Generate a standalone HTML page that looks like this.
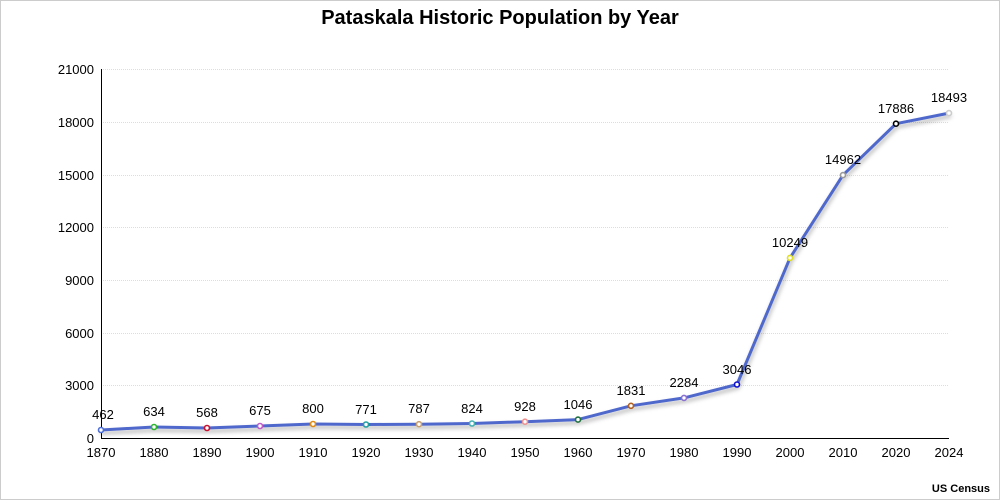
<!DOCTYPE html>
<html><head><meta charset="utf-8"><style>
body{margin:0;background:#fff;}
svg{display:block;font-family:"Liberation Sans",sans-serif;}
</style></head><body>
<svg width="1000" height="500" viewBox="0 0 1000 500" xmlns="http://www.w3.org/2000/svg">
<defs><filter id="sh" x="-50%" y="-50%" width="200%" height="200%"><feDropShadow dx="1" dy="3" stdDeviation="2" flood-color="#000" flood-opacity="0.3"/></filter></defs>
<rect x="0.5" y="0.5" width="999" height="499" fill="#fff" stroke="#ccc"/>
<text x="500" y="24" text-anchor="middle" font-size="20" font-weight="bold" fill="#000">Pataskala Historic Population by Year</text>
<g stroke="#ddd" stroke-dasharray="1,1" stroke-width="1">
<line x1="101" x2="949" y1="69.5" y2="69.5"/><line x1="101" x2="949" y1="122.5" y2="122.5"/><line x1="101" x2="949" y1="175.5" y2="175.5"/><line x1="101" x2="949" y1="227.5" y2="227.5"/><line x1="101" x2="949" y1="280.5" y2="280.5"/><line x1="101" x2="949" y1="333.5" y2="333.5"/><line x1="101" x2="949" y1="385.5" y2="385.5"/>
</g>
<g font-size="13" fill="#000" text-anchor="end">
<text x="94" y="74">21000</text><text x="94" y="127">18000</text><text x="94" y="180">15000</text><text x="94" y="232">12000</text><text x="94" y="285">9000</text><text x="94" y="338">6000</text><text x="94" y="390">3000</text><text x="94" y="443">0</text>
</g>
<line x1="101.5" y1="69" x2="101.5" y2="439" stroke="#000"/>
<line x1="101" y1="438.5" x2="949" y2="438.5" stroke="#000"/>
<g font-size="13" fill="#000" text-anchor="middle">
<text x="101" y="457">1870</text><text x="154" y="457">1880</text><text x="207" y="457">1890</text><text x="260" y="457">1900</text><text x="313" y="457">1910</text><text x="366" y="457">1920</text><text x="419" y="457">1930</text><text x="472" y="457">1940</text><text x="525" y="457">1950</text><text x="578" y="457">1960</text><text x="631" y="457">1970</text><text x="684" y="457">1980</text><text x="737" y="457">1990</text><text x="790" y="457">2000</text><text x="843" y="457">2010</text><text x="896" y="457">2020</text><text x="949" y="457">2024</text>
</g>
<polyline filter="url(#sh)" fill="none" stroke="#5068cc" stroke-width="3" stroke-linejoin="round" stroke-linecap="round" points="101,430 154,427 207,428 260,426 313,424 366,424.5 419,424.2 472,423.5 525,421.7 578,419.6 631,405.8 684,397.9 737,384.5 790,257.9 843,175.1 896,123.7 949,113.1"/>
<g stroke-width="1.6" fill="#fff">
<circle cx="101" cy="430" r="2.5" stroke="#4d6fd6"/>
<circle cx="154" cy="427" r="2.5" stroke="#2db52d"/>
<circle cx="207" cy="428" r="2.5" stroke="#c8102e"/>
<circle cx="260" cy="426" r="2.5" stroke="#c05ac8"/>
<circle cx="313" cy="424" r="2.5" stroke="#e08a10"/>
<circle cx="366" cy="424.5" r="2.5" stroke="#20a0a0"/>
<circle cx="419" cy="424.2" r="2.5" stroke="#c8a070"/>
<circle cx="472" cy="423.5" r="2.5" stroke="#40b0b0"/>
<circle cx="525" cy="421.7" r="2.5" stroke="#f09090"/>
<circle cx="578" cy="419.6" r="2.5" stroke="#207040"/>
<circle cx="631" cy="405.8" r="2.5" stroke="#b06020"/>
<circle cx="684" cy="397.9" r="2.5" stroke="#8a70d0"/>
<circle cx="737" cy="384.5" r="2.5" stroke="#1010d0"/>
<circle cx="790" cy="257.9" r="2.5" stroke="#e0e020"/>
<circle cx="843" cy="175.1" r="2.5" stroke="#999"/>
<circle cx="896" cy="123.7" r="2.5" stroke="#000"/>
<circle cx="949" cy="113.1" r="2.5" stroke="#ccc"/>
</g>
<g font-size="13" fill="#000" text-anchor="middle">
<text x="103" y="419">462</text><text x="154" y="416">634</text><text x="207" y="417">568</text><text x="260" y="415">675</text><text x="313" y="413">800</text><text x="366" y="414">771</text><text x="419" y="413">787</text><text x="472" y="413">824</text><text x="525" y="411">928</text><text x="578" y="409">1046</text><text x="631" y="395">1831</text><text x="684" y="387">2284</text><text x="737" y="374">3046</text><text x="790" y="247">10249</text><text x="843" y="164">14962</text><text x="896" y="113">17886</text><text x="949" y="102">18493</text>
</g>
<text x="990" y="492" text-anchor="end" font-size="11" font-weight="bold" fill="#000">US Census</text>
</svg>
</body></html>
